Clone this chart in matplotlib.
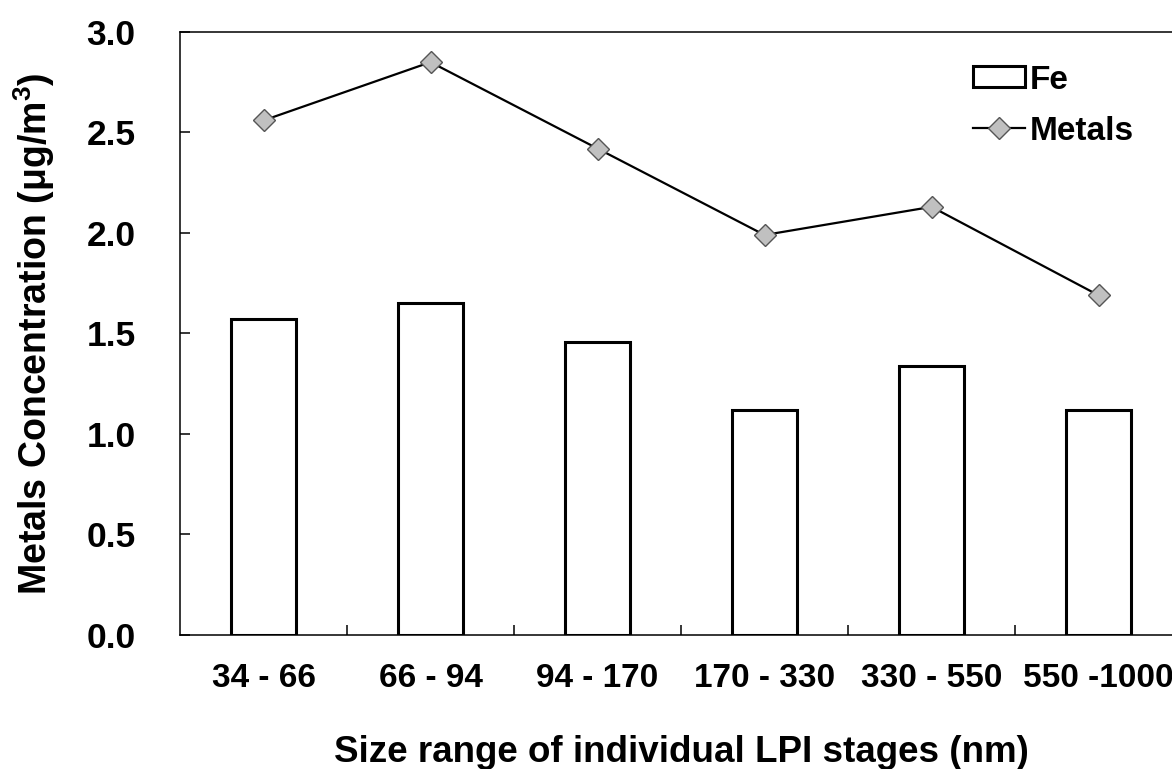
import numpy as np
import matplotlib.pyplot as plt

plt.rcParams['font.family'] = ['Liberation Sans', 'DejaVu Sans']
plt.rcParams['font.weight'] = 'bold'

# data
stages = ["34 - 66", "66 - 94", "94 - 170", "170 - 330", "330 - 550", "550 -1000"]
fe = [1.57, 1.65, 1.46, 1.12, 1.34, 1.12]
metals = [2.56, 2.85, 2.42, 1.99, 2.13, 1.69]
yticks = [0.0, 0.5, 1.0, 1.5, 2.0, 2.5, 3.0]

x = np.arange(len(stages))

fig = plt.figure(figsize=(11.72, 7.69), dpi=100)
ax = fig.add_axes([0.1536, 0.1743, 0.855, 0.7841])

bars = ax.bar(x, fe, width=0.39, color="white", edgecolor="black", linewidth=2.2, label="Fe")
line, = ax.plot(x, metals, color="black", linewidth=1.6, marker="D", markersize=11,
                markerfacecolor="#c0c0c0", markeredgecolor="#555555", markeredgewidth=1,
                label="Metals")

ax.set_xlim(-0.5, 5.5)
ax.set_ylim(0, 3.0)
ax.set_yticks(yticks)
ax.set_yticklabels([f"{v:.1f}" for v in yticks])
ax.set_xticks(x)
ax.set_xticklabels(stages)
ax.set_xticks(x[:-1] + 0.5, minor=True)
ax.tick_params(axis="x", which="major", length=0, pad=20, labelsize=24)
ax.tick_params(axis="x", which="minor", direction="in", length=7, width=1.1)
ax.tick_params(axis="y", direction="in", length=7, width=1.1, pad=32, labelsize=25.5)

for s in ax.spines.values():
    s.set_linewidth(1.1)

ax.set_ylabel("Metals Concentration (μg/m$^\\mathregular{3}$)", fontsize=27,
              fontweight="bold", labelpad=21)
ax.set_xlabel("Size range of individual LPI stages (nm)", fontsize=26.5,
              fontweight="bold", labelpad=30)

ax.legend([bars, line], ["Fe", "Metals"], loc="upper left",
          bbox_to_anchor=(0.830, 0.916), bbox_transform=fig.transFigure,
          frameon=False, fontsize=24, handlelength=1.56, handleheight=0.6,
          handletextpad=0.15, labelspacing=0.6, borderpad=0, borderaxespad=0)

fig.savefig("out.png", dpi=100)
